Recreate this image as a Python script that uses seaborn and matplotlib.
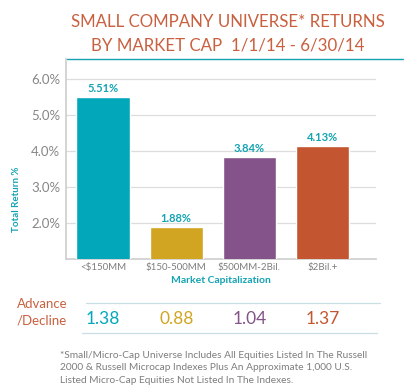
import matplotlib
matplotlib.use("Agg")
import matplotlib.pyplot as plt
import matplotlib.transforms as mtransforms
import pandas as pd
import seaborn as sns

# data
categories = ["<$150MM", "$150-500MM", "$500MM-2Bil.", "$2Bil.+"]
returns = [5.51, 1.88, 3.84, 4.13]
adv_decline = [1.38, 0.88, 1.04, 1.37]
bar_colors = ["#02A7BA", "#D1A421", "#835389", "#C35630"]
yticks = [2.0, 3.0, 4.0, 5.0, 6.0]

title_color = "#C9603F"
teal = "#14A3B3"
gray = "#7d7d7d"

sns.set_theme(style="white")
plt.rcParams["font.family"] = ["Lato", "DejaVu Sans"]

df = pd.DataFrame({"cap": categories, "ret": returns})

fig = plt.figure(figsize=(4.14, 3.89), dpi=100)
ax = fig.add_axes([0.159, 0.334, 0.749, 0.514])

sns.barplot(data=df, x="cap", y="ret", hue="cap", palette=bar_colors,
            legend=False, width=0.73, ax=ax, zorder=3, saturation=1)

ax.set_ylim(1.0, 6.55)
ax.set_xlim(-0.51, 3.73)
ax.set_yticks(yticks)
ax.set_yticklabels([f"{v:.1f}%" for v in yticks], color="#868686", fontsize=9.5)
ax.tick_params(axis="x", labelsize=7, labelcolor=gray, length=0, pad=3)
ax.tick_params(axis="y", length=0, pad=4)
ax.yaxis.grid(True, color="#dddddd", linewidth=0.9, zorder=0)
for s in ["top", "right"]:
    ax.spines[s].set_visible(False)
ax.spines["left"].set_color("#cfcfcf")
ax.spines["bottom"].set_color("#cfcfcf")

ax.set_xlabel("Market Capitalization", color=teal, fontsize=7.5, fontweight="bold",
              labelpad=3)
ax.set_ylabel("Total Return %", color=teal, fontsize=7, fontweight="bold")
ax.yaxis.set_label_coords(-0.145, 0.30)

for i, v in enumerate(returns):
    ax.text(i, v + 0.08, f"{v:.2f}%", ha="center", va="bottom", color=teal,
            fontsize=8, fontweight="bold")

# title
fig.text(0.55, 0.943, "SMALL COMPANY UNIVERSE* RETURNS", ha="center", va="center",
         color=title_color, fontsize=12.2)
fig.text(0.55, 0.884, "BY MARKET CAP  1/1/14 - 6/30/14", ha="center", va="center",
         color=title_color, fontsize=12.2)
fig.add_artist(plt.Line2D([0.162, 0.973], [0.848, 0.848], color=teal, linewidth=1.0))

# advance / decline row
fig.text(0.04, 0.218, "Advance", ha="left", va="center", color=title_color, fontsize=9.5)
fig.text(0.04, 0.177, "/Decline", ha="left", va="center", color=title_color, fontsize=9.5)
fig.add_artist(plt.Line2D([0.208, 0.918], [0.221, 0.221], color="#c8dfe4", linewidth=0.9))
fig.add_artist(plt.Line2D([0.198, 0.911], [0.144, 0.144], color="#c8dfe4", linewidth=0.9))
trans = mtransforms.blended_transform_factory(ax.transData, fig.transFigure)
for i, v in enumerate(adv_decline):
    ax.text(i, 0.181, f"{v:.2f}", transform=trans, ha="center", va="center",
            color=bar_colors[i], fontsize=12.5, clip_on=False)

# footnote
note = ("*Small/Micro-Cap Universe Includes All Equities Listed In The Russell\n"
        "2000 & Russell Microcap Indexes Plus An Approximate 1,000 U.S.\n"
        "Listed Micro-Cap Equities Not Listed In The Indexes.")
fig.text(0.145, 0.054, note, ha="left", va="center", color=gray, fontsize=7.3,
         linespacing=1.45)

fig.savefig("out.png", dpi=100)
